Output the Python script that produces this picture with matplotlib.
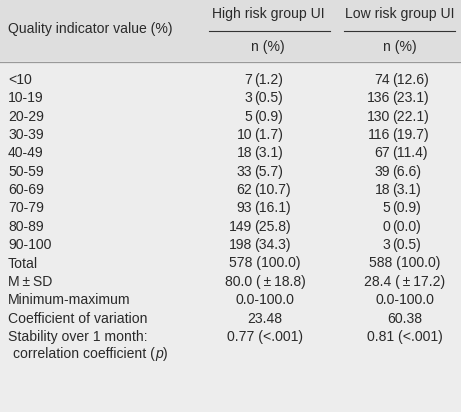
import matplotlib
matplotlib.use("Agg")
import matplotlib.pyplot as plt

# table content
row_labels = ["<10", "10-19", "20-29", "30-39", "40-49", "50-59", "60-69",
              "70-79", "80-89", "90-100"]
high_n = [7, 3, 5, 10, 18, 33, 62, 93, 149, 198]
high_pct = ["1.2", "0.5", "0.9", "1.7", "3.1", "5.7", "10.7", "16.1", "25.8", "34.3"]
low_n = [74, 136, 130, 116, 67, 39, 18, 5, 0, 3]
low_pct = ["12.6", "23.1", "22.1", "19.7", "11.4", "6.6", "3.1", "0.9", "0.0", "0.5"]

stat_labels = ["Total", "M\u2009\u00b1\u2009SD", "Minimum-maximum",
               "Coefficient of variation", "Stability over 1 month:"]
high_stats = ["578 (100.0)", "80.0 (\u2009\u00b1\u200918.8)", "0.0-100.0", "23.48",
              "0.77 (<.001)"]
low_stats = ["588 (100.0)", "28.4 (\u2009\u00b1\u200917.2)", "0.0-100.0", "60.38",
             "0.81 (<.001)"]

W, H = 461, 412
fig = plt.figure(figsize=(W / 100, H / 100), dpi=100)
ax = fig.add_axes([0, 0, 1, 1])
ax.set_xlim(0, W)
ax.set_ylim(H, 0)
ax.axis("off")

fs = 10.1
col = "#2a2a2a"
font = "Liberation Sans"

# backgrounds
ax.add_patch(plt.Rectangle((0, 0), W, 61, color="#dedede", zorder=0))
ax.add_patch(plt.Rectangle((0, 61), W, H - 61, color="#ededed", zorder=0))
ax.plot([0, W], [61.5, 61.5], color="#9a9a9a", lw=0.9)
ax.plot([209, 330], [30.5, 30.5], color="#333333", lw=0.8)
ax.plot([344, 455], [30.5, 30.5], color="#333333", lw=0.8)

# header
ax.text(8, 29, "Quality indicator value (%)", fontsize=fs, color=col,
        family=font, va="center", ha="left")
ax.text(268, 14, "High risk group UI", fontsize=fs, color=col,
        family=font, va="center", ha="center")
ax.text(400, 14, "Low risk group UI", fontsize=fs, color=col,
        family=font, va="center", ha="center")
ax.text(268, 47, "n (%)", fontsize=fs, color=col, family=font,
        va="center", ha="center")
ax.text(400, 47, "n (%)", fontsize=fs, color=col, family=font,
        va="center", ha="center")

y0, dy = 80, 18.35
for i, lab in enumerate(row_labels):
    y = y0 + i * dy
    ax.text(8, y, lab, fontsize=fs, color=col, family=font, va="center")
    ax.text(252, y, str(high_n[i]), fontsize=fs, color=col, family=font,
            va="center", ha="right")
    ax.text(254, y, "(" + high_pct[i] + ")", fontsize=fs, color=col,
            family=font, va="center", ha="left")
    ax.text(390, y, str(low_n[i]), fontsize=fs, color=col, family=font,
            va="center", ha="right")
    ax.text(392, y, "(" + low_pct[i] + ")", fontsize=fs, color=col,
            family=font, va="center", ha="left")

for j, lab in enumerate(stat_labels):
    y = y0 + (len(row_labels) + j) * dy
    ax.text(8, y, lab, fontsize=fs, color=col, family=font, va="center")
    ax.text(265, y, high_stats[j], fontsize=fs, color=col, family=font,
            va="center", ha="center")
    ax.text(405, y, low_stats[j], fontsize=fs, color=col, family=font,
            va="center", ha="center")

# second line of the stability label, with italic p
yl = y0 + 14.95 * dy
t = ax.text(13, yl, "correlation coefficient (", fontsize=fs, color=col,
            family=font, va="center")
fig.canvas.draw()
bb = t.get_window_extent().transformed(ax.transData.inverted())
tp = ax.text(bb.x1, yl, "p", fontsize=fs, color=col, family=font,
             style="italic", va="center")
fig.canvas.draw()
bb2 = tp.get_window_extent().transformed(ax.transData.inverted())
ax.text(bb2.x1 + 0.5, yl, ")", fontsize=fs, color=col, family=font, va="center")

fig.savefig("out.png", dpi=100)
